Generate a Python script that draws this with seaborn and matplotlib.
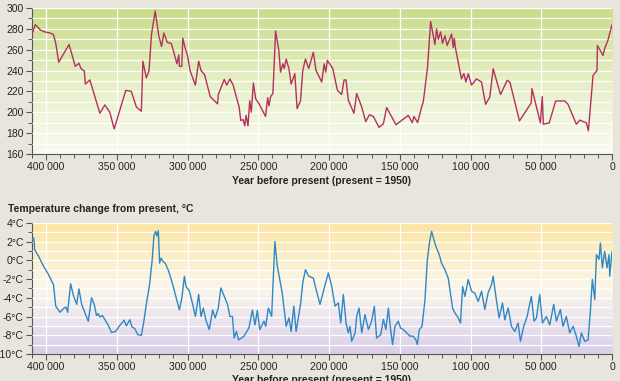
import numpy as np
import pandas as pd
import matplotlib
matplotlib.use("Agg")
import matplotlib.pyplot as plt
from matplotlib.colors import LinearSegmentedColormap
from matplotlib.ticker import MultipleLocator, FuncFormatter
import seaborn as sns

# CO2 concentration (ppmv), years before present
co2_years = [410000, 407700, 406100, 404200, 400700, 397200, 394800, 393200, 391100, 383800,
             379400, 376800, 375400, 373000, 372300, 369100, 362000, 358500, 355000, 351900,
             343700, 339800, 336200, 332700, 331600, 329200, 327300, 325500, 322900, 320400,
             318400, 316800, 314400, 311600, 310000, 307600, 306200, 305800, 304100, 303400,
             301800, 300000, 298300, 294500, 292200, 290500, 288000, 284000, 278800, 278300,
             274100, 272300, 270100, 267800, 263600, 262400, 260800, 259600, 258700, 257300,
             256100, 255000, 253500, 251900, 249500, 244900, 243400, 242500, 241300, 239700,
             237800, 235500, 234300, 232700, 231700, 230300, 228400, 226800, 224200, 222600,
             220200, 218600, 216700, 214400, 211100, 209200, 205200, 203500, 202400, 201200,
             197400, 194100, 191100, 189400, 188000, 186400, 182400, 180500, 176900, 174100,
             171500, 168700, 164700, 161600, 159300, 152700, 144000, 141200, 140000, 137400,
             134600, 133400, 130400, 128200, 125200, 124000, 122800, 121200, 119800, 118100,
             116500, 113400, 112200, 111500, 110600, 108700, 106400, 104700, 103300, 101600,
             99300, 95800, 92200, 89400, 86400, 84000, 78800, 74100, 72200, 65400,
             57100, 56600, 50600, 49300, 48500, 44400, 39800, 33400, 31100, 25200,
             22800, 18100, 16700, 13400, 10600, 10300, 6350, 5200, 2800, 0]
co2_ppm = [275, 284, 282, 279, 277, 276, 274.5, 266, 248, 265,
           244, 247, 242, 239.5, 227, 231, 199, 207, 200, 184,
           221, 220, 205, 201, 249, 233, 239.5, 275, 297, 273.5,
           263, 276, 267, 266, 259, 246.5, 255, 244, 244, 271,
           262, 254, 240, 226, 249, 240, 236, 215, 208, 217,
           231.5, 226, 232, 226, 205, 192, 193, 187, 197, 187,
           211, 200, 228, 213, 208, 196, 214, 206, 215, 218,
           278, 259, 238.5, 246.5, 242, 251, 242, 227, 237, 203.5,
           211, 240, 251, 242, 257.5, 240, 229, 246.5, 238.5, 249.7,
           242, 221, 217, 231, 231, 211.5, 199, 218, 205, 191,
           197.5, 196, 185.5, 189, 204.5, 188, 197, 190, 196, 190,
           205, 210, 243, 287, 265, 280, 270, 277, 266, 273.5,
           264, 275, 262, 271, 261, 248, 232, 237, 229, 237,
           226, 232, 229, 207.6, 214.6, 241.7, 217, 230.6, 229, 191.7,
           209, 222.6, 189.8, 215, 188.5, 189.8, 210.8, 210.8, 207.6, 188.5,
           192.4, 189.8, 182.2, 235.3, 240, 264, 254.5, 261, 269.4, 284]

# Temperature change from present (deg C)
temp_years = [410000, 408900, 408400, 408200, 405400, 401900, 398400, 394800, 393200, 391300,
              390200, 387400, 386000, 384800, 382700, 380800, 378400, 376800, 374900, 372600,
              370200, 367900, 366000, 364400, 363200, 362000, 360200, 359200, 356200, 353800,
              350800, 348400, 344900, 343300, 340900, 339300, 337400, 335100, 332700, 331100,
              329200, 326900, 325000, 323800, 322600, 321700, 320700, 319800, 318700, 317500,
              315600, 313300, 310500, 308100, 305800, 303900, 302300, 301100, 298700, 296400,
              294500, 292200, 290500, 288900, 287000, 284700, 282300, 280500, 278300, 276500,
              274100, 271800, 270100, 268300, 267100, 265500, 264000, 260100, 256600, 254200,
              252400, 250700, 249000, 246000, 244800, 242900, 240600, 238300, 236600, 233100,
              230300, 228400, 226800, 224900, 223300, 220200, 218600, 216700, 214400, 211100,
              209200, 206400, 202800, 200500, 198100, 195800, 193400, 191800, 189900, 188000,
              186400, 185200, 184000, 181600, 180500, 178800, 176900, 174600, 172200, 169900,
              168000, 166400, 163500, 161600, 159800, 158100, 156500, 155100, 153400, 151100,
              149400, 147500, 145200, 142800, 140500, 138600, 137600, 136200, 134300, 132200,
              130600, 129100, 127500, 125900, 124500, 122100, 120500, 118100, 115800, 114600,
              112700, 111100, 108700, 107100, 105600, 104000, 101600, 99300, 97000, 94600,
              92200, 89900, 87600, 85200, 84000, 82100, 79800, 77400, 75800, 73400,
              71100, 68700, 66400, 64700, 62400, 60000, 57000, 55100, 53400, 51100,
              49200, 46400, 44000, 41200, 39300, 36500, 34600, 32300, 29900, 27500,
              25200, 23300, 21600, 19300, 16900, 15300, 13900, 12200, 11000, 9200,
              8200, 6800, 5200, 3500, 2100, 1600, 0]
temp_change = [2.2, 2.4, 1.9, 1.15, 0.45, -0.6, -1.5, -2.6, -4.9, -5.3,
               -5.55, -5.1, -5.0, -5.55, -2.5, -3.7, -4.7, -3.05, -4.7, -5.6,
               -6.5, -4.0, -4.7, -5.9, -5.7, -6.05, -5.9, -6.15, -6.9, -7.7,
               -7.6, -7.05, -6.4, -7.0, -6.35, -7.1, -7.3, -7.95, -8.0, -6.7,
               -4.7, -2.6, 0.1, 2.65, 3.1, 2.6, 3.15, -0.3, 0.25, -0.1,
               -0.35, -1.2, -2.6, -4.0, -5.3, -3.85, -1.7, -2.8, -3.3, -4.7,
               -6.0, -3.65, -6.0, -5.1, -6.4, -7.4, -5.3, -6.15, -5.1, -2.95,
               -3.85, -4.7, -6.0, -6.0, -8.3, -7.6, -8.5, -8.1, -7.2, -5.3,
               -6.9, -5.35, -7.4, -6.5, -7.05, -5.1, -6.0, 2.0, -0.6, -3.5,
               -7.05, -6.15, -7.6, -4.9, -7.6, -4.7, -2.4, -1.0, -1.7, -1.9,
               -3.1, -4.7, -2.6, -1.35, -2.8, -4.9, -4.55, -6.7, -3.65, -6.7,
               -7.75, -7.05, -8.65, -7.75, -6.0, -5.1, -7.75, -5.8, -7.4, -6.5,
               -4.9, -8.3, -7.95, -6.3, -7.4, -5.1, -7.4, -9.0, -7.05, -6.5,
               -7.25, -7.4, -7.75, -8.1, -8.1, -8.5, -9.0, -7.4, -7.05, -4.2,
               -0.1, 1.85, 3.1, 2.2, 1.5, 0.6, -0.3, -1.0, -1.9, -3.1,
               -5.1, -5.6, -6.15, -6.7, -2.8, -3.85, -2.05, -3.3, -3.5, -4.4,
               -3.3, -5.25, -3.5, -2.6, -1.7, -3.85, -6.15, -4.55, -6.35, -5.1,
               -7.05, -7.6, -6.7, -8.65, -7.05, -6.0, -3.85, -6.5, -6.15, -3.65,
               -6.7, -6.0, -6.9, -4.7, -6.5, -5.25, -7.05, -6.0, -7.75, -7.05,
               -8.1, -9.2, -7.75, -8.65, -8.5, -5.45, -2.05, -4.2, 0.6, 0.1,
               1.85, -0.8, 0.95, -0.8, 0.6, -1.7, 0.95]

co2 = pd.DataFrame({"year": co2_years, "ppm": co2_ppm})
temp = pd.DataFrame({"year": temp_years, "change": temp_change})

sns.set_theme(style="white")
plt.rcParams['font.family'] = ['Liberation Sans', 'DejaVu Sans']

bg = "#e8e6dc"
fig = plt.figure(figsize=(6.2, 3.81), dpi=100, facecolor=bg)
ax1 = fig.add_axes([0.0516, 0.596, 0.9355, 0.383])
ax2 = fig.add_axes([0.0516, 0.071, 0.9355, 0.344])

def gradient(ax, colors):
    cmap = LinearSegmentedColormap.from_list("g", colors)
    grad = np.linspace(0, 1, 256).reshape(-1, 1)
    ax.imshow(grad, cmap=cmap, aspect="auto", extent=[0, 1, 0, 1],
              transform=ax.transAxes, zorder=0, origin="lower")

gradient(ax1, ["#fafbf2", "#e6efc6", "#c8dc88"])
gradient(ax2, ["#d9cde8", "#ece4ee", "#faf6ea", "#fbefc8", "#fbe4a0"])

sns.lineplot(data=co2, x="year", y="ppm", ax=ax1, color="#b5305f",
             linewidth=1.0, estimator=None, sort=False, zorder=3)
sns.lineplot(data=temp, x="year", y="change", ax=ax2, color="#2f88c4",
             linewidth=1.0, estimator=None, sort=False, zorder=3)

fmt_year = FuncFormatter(lambda v, p: "0" if v == 0 else f"{int(v):,}".replace(",", " "))
fmt_temp = FuncFormatter(lambda v, p: f"{int(v)}°C")

for ax in (ax1, ax2):
    ax.set_facecolor("none")
    ax.set_xlim(410000, 0)
    ax.xaxis.set_major_locator(MultipleLocator(50000))
    ax.xaxis.set_minor_locator(MultipleLocator(10000))
    ax.xaxis.set_major_formatter(fmt_year)
    ax.grid(True, which="major", axis="x", color="white", linewidth=0.9, zorder=1)
    ax.grid(True, which="minor", axis="y", color="white", linewidth=0.9, zorder=1)
    ax.grid(True, which="major", axis="y", color="white", linewidth=0.9, zorder=1)
    ax.set_axisbelow(False)
    for s in ("top", "right"):
        ax.spines[s].set_visible(False)
    for s in ("left", "bottom"):
        ax.spines[s].set_color("#555555")
        ax.spines[s].set_linewidth(0.8)
    ax.tick_params(axis="both", which="major", direction="out", length=4, width=0.8,
                   color="#555555", labelsize=7.5, labelcolor="#222222", pad=2,
                   bottom=True, left=True)
    ax.tick_params(axis="both", which="minor", direction="out", length=3, width=0.7,
                   color="#555555", bottom=True, left=True)
    ax.set_ylabel("")

ax1.set_ylim(160, 300)
ax1.yaxis.set_major_locator(MultipleLocator(20))
ax1.yaxis.set_minor_locator(MultipleLocator(10))
ax1.set_xlabel("Year before present (present = 1950)", fontsize=7.5, fontweight="bold",
               color="#222222", labelpad=3)

ax2.set_ylim(-10, 4)
ax2.yaxis.set_major_locator(MultipleLocator(2))
ax2.yaxis.set_minor_locator(MultipleLocator(1))
ax2.yaxis.set_major_formatter(fmt_temp)
ax2.set_xlabel("Year before present (present = 1950)", fontsize=7.5, fontweight="bold",
               color="#222222", labelpad=2)

fig.text(0.013, 0.452, "Temperature change from present, °C", fontsize=7.5,
         fontweight="bold", color="#222222", va="center", ha="left")

fig.savefig("out.png", dpi=100, facecolor=bg)
